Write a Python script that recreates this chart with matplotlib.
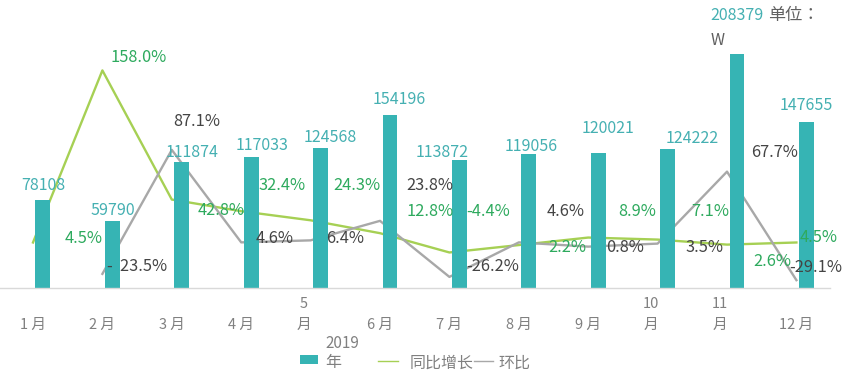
import matplotlib
matplotlib.use("Agg")
import matplotlib.pyplot as plt
from matplotlib.patches import Rectangle
from matplotlib.lines import Line2D
from matplotlib.transforms import ScaledTranslation
import numpy as np

plt.rcParams['font.family'] = ['Noto Sans CJK SC', 'DejaVu Sans']

# ---------------- data ----------------
months = ["1 月", "2 月", "3 月", "4 月", "5\n月", "6 月", "7 月", "8 月", "9 月", "10\n月", "11\n月", "12 月"]
sales_2019 = [78108, 59790, 111874, 117033, 124568, 154196, 113872, 119056, 120021, 124222, 208379, 147655]
yoy_growth = [4.5, 158.0, 42.8, 32.4, 24.3, 12.8, -4.4, 2.2, 8.9, 7.1, 2.6, 4.5]       # 同比增长 (%)
mom_growth = [-23.5, 87.1, 4.6, 6.4, 23.8, -26.2, 4.6, 0.8, 3.5, 67.7, -29.1]           # 环比 (%), Feb..Dec
bar_name = "年"
bar_year = "2019"
yoy_name = "同比增长"
mom_name = "环比"
unit_text = "单位："
unit_sym = "W"

# ---------------- style ----------------
BAR_C = '#36B4B4'
BAR_TXT = '#45B0B2'
LIME = '#A6D054'
GRAYL = '#A8A8A8'
GREEN_TXT = '#2EAA5E'
DARK_TXT = '#444444'
TICK_C = '#808080'

# label offsets in pixels (dx, dy up)
bar_off = [(0, 15), (0, 10), (10, 10), (11, 11), (10, 11), (9, 15), (-17, 8), (2, 8), (10, 25), (25, 10), (0, 39), (0, 17)]
yoy_off = [(51, 4), (36, 13), (49, -11), (41, 26), (46, 35), (50, 22), (39, 41), (49, -2), (49, 26), (53, 28), (45, -17), (22, 5)]
mom_off = [(35, 7), (25, 28), (33, 4), (35, 2), (50, 35), (43, 10), (47, 31), (37, -1), (47, -4), (48, 19), (19, 13)]

W, H = 860, 384
fig = plt.figure(figsize=(W / 100, H / 100), dpi=100)
ax = fig.add_axes([0, 96 / H, 830 / W, 288 / H])
ax2 = ax.twinx()
ax.set_zorder(ax2.get_zorder() + 1)
ax.patch.set_visible(False)

x = np.arange(len(months))
bar_shift = 0.144
ax.bar(x + bar_shift, sales_2019, width=0.216, color=BAR_C, zorder=2)

ax2.plot(x, yoy_growth, color=LIME, lw=1.7, zorder=1)
ax2.plot(x[1:], mom_growth, color=GRAYL, lw=1.7, zorder=1)

ax.set_xlim(-0.4755, 11.484)
ax2.set_xlim(-0.4755, 11.484)
ax.set_ylim(0, 256500)
ax2.set_ylim(-36.1, 220.8)

for a in (ax, ax2):
    for s in a.spines.values():
        s.set_visible(False)
    a.set_yticks([])
ax.spines['bottom'].set_visible(True)
ax.spines['bottom'].set_color('#D9D9D9')
ax.spines['bottom'].set_linewidth(1.0)

ax.set_xticks(x)
ax.set_xticklabels(months, linespacing=1.6)
ax.tick_params(axis='x', length=0, pad=29.5, labelsize=10.5, labelcolor=TICK_C)
shift_left = ScaledTranslation(-7 / 100, 0, fig.dpi_scale_trans)
for tick, lbl in zip(ax.xaxis.get_major_ticks(), months):
    tick.label1.set_verticalalignment('baseline')
    if "\n" in lbl:
        tick.label1.set_transform(tick.label1.get_transform() + shift_left)

FS = 11.8
# bar value labels
for i, v in enumerate(sales_2019):
    dx, dy = bar_off[i]
    ax.annotate(f"{v}", xy=(x[i] + bar_shift, v), xycoords=ax.transData,
                xytext=(dx, dy), textcoords='offset pixels', ha='center', va='center',
                fontsize=FS - 0.3, color=BAR_TXT, zorder=5, annotation_clip=False)

# unit note next to the max bar
imax = int(np.argmax(sales_2019))
ax.annotate(unit_text, xy=(x[imax] + bar_shift, sales_2019[imax]), xycoords=ax.transData,
            xytext=(31, 39), textcoords='offset pixels', ha='left', va='center',
            fontsize=12.3, color='#606060', zorder=5, annotation_clip=False,
            family=['Noto Sans CJK JP', 'DejaVu Sans'])
ax.annotate(unit_sym, xy=(x[imax] + bar_shift, sales_2019[imax]), xycoords=ax.transData,
            xytext=(-19, 14), textcoords='offset pixels', ha='center', va='center',
            fontsize=FS - 0.3, color='#606060', zorder=5, annotation_clip=False)

# yoy labels
for i, v in enumerate(yoy_growth):
    dx, dy = yoy_off[i]
    ax.annotate(f"{v:.1f}%", xy=(x[i], v), xycoords=ax2.transData,
                xytext=(dx, dy), textcoords='offset pixels', ha='center', va='center',
                fontsize=FS, color=GREEN_TXT, zorder=6, annotation_clip=False)

# mom labels
for j, v in enumerate(mom_growth):
    dx, dy = mom_off[j]
    txt = f"{v:.1f}%"
    if j == 0:
        txt = f"-  {abs(v):.1f}%"
    ax.annotate(txt, xy=(x[j + 1], v), xycoords=ax2.transData,
                xytext=(dx, dy), textcoords='offset pixels', ha='center', va='center',
                fontsize=FS, color=DARK_TXT, zorder=6, annotation_clip=False)

# legend (drawn by hand to follow the reference spacing)
def fx(px):
    return px / W

def fy(py):
    return 1 - py / H

LFS = 11.5
fig.patches.append(Rectangle((fx(300), fy(364)), 18 / W, 9 / H, transform=fig.transFigure,
                             facecolor=BAR_C, edgecolor='none'))
fig.text(fx(325), fy(343), bar_year, ha='left', va='center', fontsize=11, color=TICK_C)
fig.text(fx(325), fy(363), bar_name, ha='left', va='center', fontsize=LFS, color=TICK_C)
fig.lines.append(Line2D([fx(378), fx(398)], [fy(361), fy(361)], transform=fig.transFigure,
                        color=LIME, lw=1.0))
fig.text(fx(410), fy(363), yoy_name, ha='left', va='center', fontsize=LFS, color=TICK_C)
fig.lines.append(Line2D([fx(474), fx(493)], [fy(361), fy(361)], transform=fig.transFigure,
                        color=GRAYL, lw=1.0))
fig.text(fx(498), fy(363), mom_name, ha='left', va='center', fontsize=LFS, color=TICK_C)

fig.savefig("out.png", dpi=100)
